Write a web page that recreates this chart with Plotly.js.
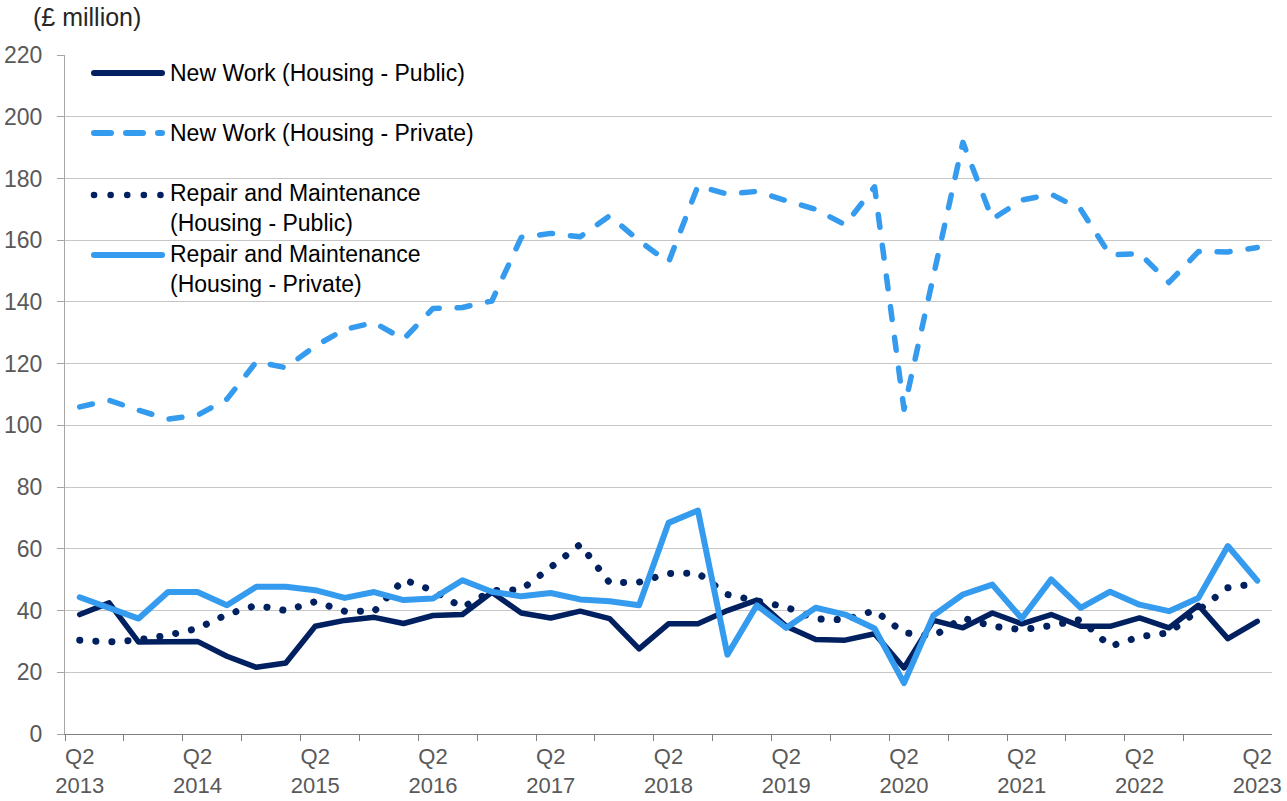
<!DOCTYPE html>
<html>
<head>
<meta charset="utf-8">
<script src="https://cdn.plot.ly/plotly-3.0.1.min.js"></script>
<style>
html, body { margin: 0; padding: 0; background: #ffffff; }
#chart { width: 1287px; height: 801px; }
.scatterlayer .js-line { stroke-linecap: round !important; stroke-linejoin: round !important; }
.shapelayer path { stroke-linecap: round !important; }
</style>
</head>
<body>
<div id="chart"></div>
<script>
// ---- Data ----
const categories = [
  "2013 Q2","2013 Q3","2013 Q4",
  "2014 Q1","2014 Q2","2014 Q3","2014 Q4",
  "2015 Q1","2015 Q2","2015 Q3","2015 Q4",
  "2016 Q1","2016 Q2","2016 Q3","2016 Q4",
  "2017 Q1","2017 Q2","2017 Q3","2017 Q4",
  "2018 Q1","2018 Q2","2018 Q3","2018 Q4",
  "2019 Q1","2019 Q2","2019 Q3","2019 Q4",
  "2020 Q1","2020 Q2","2020 Q3","2020 Q4",
  "2021 Q1","2021 Q2","2021 Q3","2021 Q4",
  "2022 Q1","2022 Q2","2022 Q3","2022 Q4",
  "2023 Q1","2023 Q2"
];

const tickLabels = ["Q2<br>2013","Q2<br>2014","Q2<br>2015","Q2<br>2016","Q2<br>2017","Q2<br>2018",
                    "Q2<br>2019","Q2<br>2020","Q2<br>2021","Q2<br>2022","Q2<br>2023"];

const newWorkPublic = [38.7, 42.5, 29.8, 30, 30, 25.2, 21.6, 23, 34.9, 36.8, 37.8, 35.8, 38.4, 38.7,
  45.9, 39.2, 37.6, 39.8, 37.4, 27.6, 35.7, 35.7, 40, 43.4, 34.9, 30.6, 30.4, 32.5,
  21.4, 36.8, 34.4, 39.2, 35.7, 38.7, 34.9, 34.9, 37.6, 34.4, 41.7, 30.9, 36.5];

const newWorkPrivate = [106, 108.1, 104.9, 102, 103.3, 108.5, 120.6, 118.7, 125.7, 131.1, 133.3, 127.9, 137.9, 138.2,
  140.3, 160.9, 162.2, 161.1, 167.9, 159.8, 152.8, 177.6, 174.9, 175.8, 172.8, 170, 165, 177.3,
  105.2, 148.2, 191.7, 166.8, 173, 174.9, 170, 155.2, 155.7, 146.3, 156.3, 156.2, 157.6];

const repairPublic = [30.4, 29.8, 30.5, 32, 34.2, 38.7, 41.7, 40, 42.9, 39.8, 39.7, 50, 46.5, 41,
  46.4, 46.8, 54, 61.4, 49, 49.2, 52, 52.1, 45.2, 43.4, 41.1, 37.3, 37, 40,
  32.8, 31.7, 37.6, 34.9, 33.8, 35.1, 37.1, 28.4, 31.5, 32.8, 40.3, 47.4, 48.8];

const repairPrivate = [44.3, 40.9, 37.4, 46, 46, 41.7, 47.7, 47.7, 46.6, 44.1, 46, 43.4, 43.9, 49.8,
  46.1, 44.6, 45.7, 43.6, 43, 41.7, 68.4, 72.4, 25.7, 41.7, 34.4, 40.9, 38.7, 34.2,
  16.5, 38.4, 45.2, 48.4, 37.4, 50.1, 40.9, 46.1, 41.9, 39.8, 44.1, 60.9, 49.7];

const seriesNames = [
  "New Work (Housing - Public)",
  "New Work (Housing - Private)",
  "Repair and Maintenance<br>(Housing - Public)",
  "Repair and Maintenance<br>(Housing - Private)"
];

// ---- Styling ----
const DARK = "#002060";
const LIGHT = "#359BEE";
const FONT = "Liberation Sans, Arial, sans-serif";

const xIdx = categories.map((c, i) => i);
const labelPos = categories.map((c, i) => c.endsWith("Q2") ? i : null).filter(v => v !== null);
const boundaryPos = categories.map((c, i) => i).filter(i => i % 2 === 0 && i < categories.length - 1).map(i => i - 0.5);

const W = 1287, H = 801;
const M = { l: 65, r: 15, t: 55, b: 67 };
const plotW = W - M.l - M.r, plotH = H - M.t - M.b;
const px = x => (x - M.l) / plotW;
const py = y => (H - M.b - y) / plotH;

const styles = [
  { color: DARK, width: 5.5, dash: "solid", legendDash: "solid" },
  { color: LIGHT, width: 5.5, dash: "13px,18px", legendDash: "17px,15px" },
  { color: DARK, width: 7, dash: "0.1px,16px", legendDash: "0.1px,16.5px" },
  { color: LIGHT, width: 6, dash: "solid", legendDash: "solid" }
];
const seriesData = [newWorkPublic, newWorkPrivate, repairPublic, repairPrivate];

const traces = seriesData.map((ys, k) => ({
  type: "scatter",
  mode: "lines",
  name: seriesNames[k],
  x: xIdx,
  y: ys,
  line: { color: styles[k].color, width: styles[k].width, dash: styles[k].dash },
  hoverinfo: "skip",
  showlegend: false
}));

// custom legend (Excel style)
const legendLineY = [73, 133, 195, 255];
const legendTextY = [73, 133, 208.5, 269];
const shapes = styles.map((s, k) => ({
  type: "line", xref: "paper", yref: "paper",
  x0: px(94), x1: px(162), y0: py(legendLineY[k]), y1: py(legendLineY[k]),
  line: { color: s.color, width: k === 2 ? 6.5 : 6, dash: s.legendDash }
}));
const annotations = seriesNames.map((n, k) => ({
  xref: "paper", yref: "paper", x: px(168), y: py(legendTextY[k]),
  xanchor: "left", yanchor: "middle", align: "left", showarrow: false,
  text: n, font: { family: FONT, size: 23, color: "#000000" }
}));

const layout = {
  width: W, height: H,
  margin: M,
  paper_bgcolor: "#ffffff",
  plot_bgcolor: "#ffffff",
  font: { family: FONT, size: 23, color: "#595959" },
  title: {
    text: "(£ million)",
    font: { family: FONT, size: 25, color: "#262626" },
    xref: "container", yref: "container",
    x: 33 / W, xanchor: "left",
    y: 1 - 17 / H, yanchor: "middle"
  },
  xaxis: {
    type: "linear",
    range: [-0.5, categories.length - 0.5],
    tickmode: "array",
    tickvals: labelPos,
    ticktext: tickLabels,
    ticks: "",
    ticklabelstandoff: 3,
    showgrid: false,
    zeroline: false,
    showline: true,
    linecolor: "#808080",
    linewidth: 1,
    tickfont: { family: FONT, size: 22, color: "#595959" },
    minor: {
      tickmode: "array",
      tickvals: boundaryPos,
      ticks: "outside",
      ticklen: 6,
      tickwidth: 1,
      tickcolor: "#808080",
      showgrid: false
    },
    fixedrange: true
  },
  yaxis: {
    range: [0, 220],
    tickmode: "linear",
    tick0: 0,
    dtick: 20,
    ticks: "outside",
    ticklen: 7,
    tickwidth: 1,
    tickcolor: "#a6a6a6",
    ticklabelstandoff: 10,
    showgrid: true,
    gridcolor: "#c6c6c6",
    gridwidth: 1,
    zeroline: false,
    showline: true,
    linecolor: "#a6a6a6",
    linewidth: 1,
    tickfont: { family: FONT, size: 23, color: "#595959" },
    fixedrange: true
  },
  shapes: shapes,
  annotations: annotations,
  showlegend: false
};

Plotly.newPlot("chart", traces, layout, { displayModeBar: false, staticPlot: true });
</script>
</body>
</html>
